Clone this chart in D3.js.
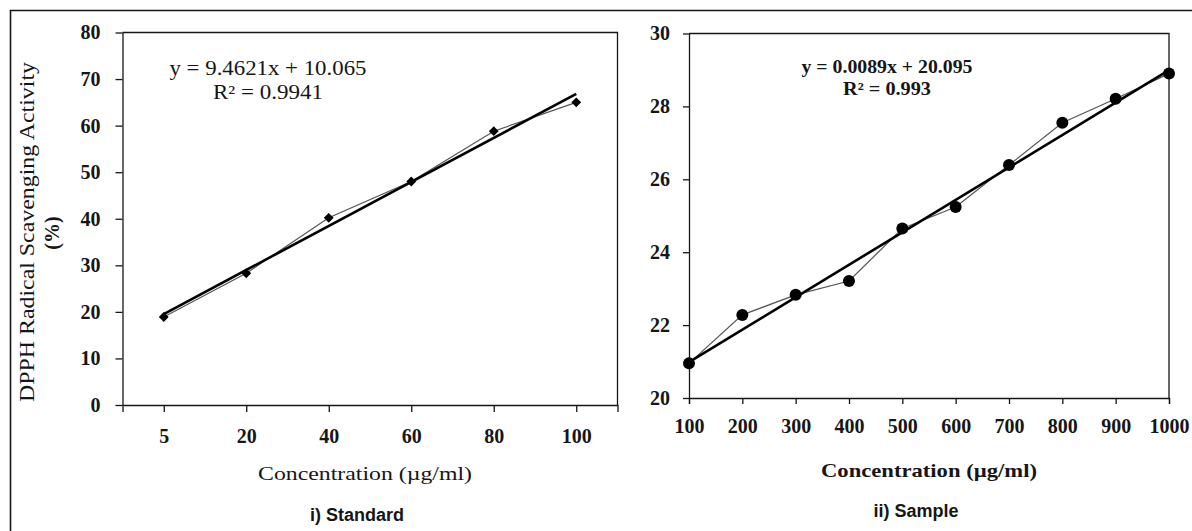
<!DOCTYPE html>
<html>
<head>
<meta charset="utf-8">
<script src="https://cdn.jsdelivr.net/npm/d3@7"></script>
<style>
  body { margin: 0; background: #fff; }
  svg { display: block; }
</style>
</head>
<body>
<svg id="chart" width="1192" height="531"></svg>
<script>
// i) standard
var stdConc = ['5', '20', '40', '60', '80', '100'];
var stdActivity = [18.9, 28.3, 40.2, 48.0, 58.8, 65.0];
var stdSlope = 9.4621, stdIntercept = 10.065;   // excel trendline, x = category number
var stdYTicks = [0, 10, 20, 30, 40, 50, 60, 70, 80];

// ii) sample
var sampleConc = [100, 200, 300, 400, 500, 600, 700, 800, 900, 1000];
var sampleActivity = [20.95, 22.28, 22.83, 23.21, 24.65, 25.24, 26.39, 27.55, 28.21, 28.9];
var sampleSlope = 0.0089, sampleIntercept = 20.095;
var sampleYTicks = [20, 22, 24, 26, 28, 30];

var serif = '"Liberation Serif", "Times New Roman", serif';
var ink = '#161616';

var svg = d3.select('#chart');

// outer figure frame (top + left only)
svg.append('path')
  .attr('d', 'M10.5,531V10.5H1192')
  .attr('fill', 'none').attr('stroke', ink).attr('stroke-width', 1.6);

function styleAxis(sel, size, weight) {
  sel.selectAll('.domain, .tick line').attr('stroke', ink).attr('stroke-width', 1.3);
  sel.selectAll('text')
    .attr('fill', ink)
    .style('font-family', serif)
    .style('font-size', size + 'px')
    .style('font-weight', weight);
}

// ---------- left chart ----------
var x1 = d3.scalePoint().domain(stdConc).range([122.5, 617.5]).padding(0.5);
var y1 = d3.scaleLinear().domain([0, 80]).range([405, 32.5]);
var g1 = svg.append('g');

g1.append('path')
  .attr('d', 'M' + x1.range()[0] + ',' + y1(80) + 'H' + x1.range()[1] + 'V' + y1(0))
  .attr('fill', 'none').attr('stroke', ink).attr('stroke-width', 1.3);

g1.append('g')
  .attr('transform', 'translate(0,' + y1(0) + ')')
  .call(d3.axisBottom(x1).tickSize(7).tickSizeOuter(7).tickPadding(17))
  .call(styleAxis, 20, 'bold');

g1.append('g')
  .attr('transform', 'translate(' + x1.range()[0] + ',0)')
  .call(d3.axisLeft(y1).tickValues(stdYTicks).tickSize(7).tickSizeOuter(0).tickPadding(15))
  .call(styleAxis, 20, 'bold');

var stdPts = stdConc.map(function(c, i) { return { c: c, v: stdActivity[i] }; });

g1.append('path')
  .datum(stdPts)
  .attr('fill', 'none').attr('stroke', '#555').attr('stroke-width', 1.2)
  .attr('d', d3.line().x(function(d) { return x1(d.c); }).y(function(d) { return y1(d.v); }));

var n1 = stdConc.length;
g1.append('line')
  .attr('x1', x1(stdConc[0])).attr('y1', y1(stdSlope * 1 + stdIntercept))
  .attr('x2', x1(stdConc[n1 - 1])).attr('y2', y1(stdSlope * n1 + stdIntercept))
  .attr('stroke', '#000').attr('stroke-width', 2.6);

g1.selectAll('.dia')
  .data(stdPts)
  .join('path')
  .attr('class', 'dia')
  .attr('d', d3.symbol(d3.symbolSquare, 48))
  .attr('transform', function(d) { return 'translate(' + x1(d.c) + ',' + y1(d.v) + ') rotate(45)'; })
  .attr('fill', '#000');

g1.append('text')
  .attr('x', 268).attr('y', 75).attr('text-anchor', 'middle')
  .attr('textLength', 197).attr('lengthAdjust', 'spacingAndGlyphs')
  .style('font-family', serif).style('font-size', '20px').attr('fill', ink)
  .text('y = 9.4621x + 10.065');
g1.append('text')
  .attr('x', 268).attr('y', 99).attr('text-anchor', 'middle')
  .attr('textLength', 110).attr('lengthAdjust', 'spacingAndGlyphs')
  .style('font-family', serif).style('font-size', '20px').attr('fill', ink)
  .text('R² = 0.9941');

// y title, two lines
g1.append('text')
  .attr('transform', 'translate(34,232) rotate(-90)')
  .attr('text-anchor', 'middle')
  .attr('textLength', 340).attr('lengthAdjust', 'spacingAndGlyphs')
  .style('font-family', serif).style('font-size', '20px').attr('fill', ink)
  .text('DPPH Radical Scavenging Activity');
g1.append('text')
  .attr('transform', 'translate(59,233) rotate(-90)')
  .attr('text-anchor', 'middle')
  .style('font-family', serif).style('font-size', '20px').style('font-weight', 'bold').attr('fill', ink)
  .text('(%)');

g1.append('text')
  .attr('x', 365).attr('y', 480).attr('text-anchor', 'middle')
  .attr('textLength', 214).attr('lengthAdjust', 'spacingAndGlyphs')
  .style('font-family', serif).style('font-size', '19.5px').attr('fill', ink)
  .text('Concentration (µg/ml)');

g1.append('text')
  .attr('x', 357).attr('y', 521).attr('text-anchor', 'middle')
  .style('font-family', '"Liberation Sans", Arial, sans-serif').style('font-size', '18px')
  .style('font-weight', 'bold').attr('fill', ink)
  .text('i) Standard');

// ---------- right chart ----------
var x2 = d3.scaleLinear().domain([100, 1000]).range([689, 1169]);
var y2 = d3.scaleLinear().domain([20, 30]).range([398, 33.5]);
var g2 = svg.append('g');

g2.append('path')
  .attr('d', 'M' + x2(100) + ',' + y2(30) + 'H' + x2(1000) + 'V' + y2(20))
  .attr('fill', 'none').attr('stroke', ink).attr('stroke-width', 1.3);

g2.append('g')
  .attr('transform', 'translate(0,' + y2(20) + ')')
  .call(d3.axisBottom(x2).tickValues(sampleConc).tickFormat(d3.format('d'))
    .tickSize(6).tickSizeOuter(6).tickPadding(15))
  .call(styleAxis, 20, 'bold');

g2.append('g')
  .attr('transform', 'translate(' + x2(100) + ',0)')
  .call(d3.axisLeft(y2).tickValues(sampleYTicks).tickSize(6).tickSizeOuter(0).tickPadding(13))
  .call(styleAxis, 20, 'bold');

var samplePts = sampleConc.map(function(c, i) { return { c: c, v: sampleActivity[i] }; });

g2.append('path')
  .datum(samplePts)
  .attr('fill', 'none').attr('stroke', '#555').attr('stroke-width', 1.2)
  .attr('d', d3.line().x(function(d) { return x2(d.c); }).y(function(d) { return y2(d.v); }));

var cFirst = sampleConc[0], cLast = sampleConc[sampleConc.length - 1];
g2.append('line')
  .attr('x1', x2(cFirst)).attr('y1', y2(sampleSlope * cFirst + sampleIntercept))
  .attr('x2', x2(cLast)).attr('y2', y2(sampleSlope * cLast + sampleIntercept))
  .attr('stroke', '#000').attr('stroke-width', 2.6);

g2.selectAll('.dot')
  .data(samplePts)
  .join('circle')
  .attr('class', 'dot')
  .attr('cx', function(d) { return x2(d.c); })
  .attr('cy', function(d) { return y2(d.v); })
  .attr('r', 6)
  .attr('fill', '#000');

g2.append('text')
  .attr('x', 887).attr('y', 73).attr('text-anchor', 'middle')
  .attr('textLength', 171).attr('lengthAdjust', 'spacingAndGlyphs')
  .style('font-family', serif).style('font-size', '18px').style('font-weight', 'bold').attr('fill', ink)
  .text('y = 0.0089x + 20.095');
g2.append('text')
  .attr('x', 887).attr('y', 95).attr('text-anchor', 'middle')
  .attr('textLength', 88).attr('lengthAdjust', 'spacingAndGlyphs')
  .style('font-family', serif).style('font-size', '18px').style('font-weight', 'bold').attr('fill', ink)
  .text('R² = 0.993');

g2.append('text')
  .attr('x', 929).attr('y', 477).attr('text-anchor', 'middle')
  .attr('textLength', 216).attr('lengthAdjust', 'spacingAndGlyphs')
  .style('font-family', serif).style('font-size', '19.5px').style('font-weight', 'bold').attr('fill', ink)
  .text('Concentration (µg/ml)');

g2.append('text')
  .attr('x', 916).attr('y', 517).attr('text-anchor', 'middle')
  .style('font-family', '"Liberation Sans", Arial, sans-serif').style('font-size', '18px')
  .style('font-weight', 'bold').attr('fill', ink)
  .text('ii) Sample');
</script>
</body>
</html>
